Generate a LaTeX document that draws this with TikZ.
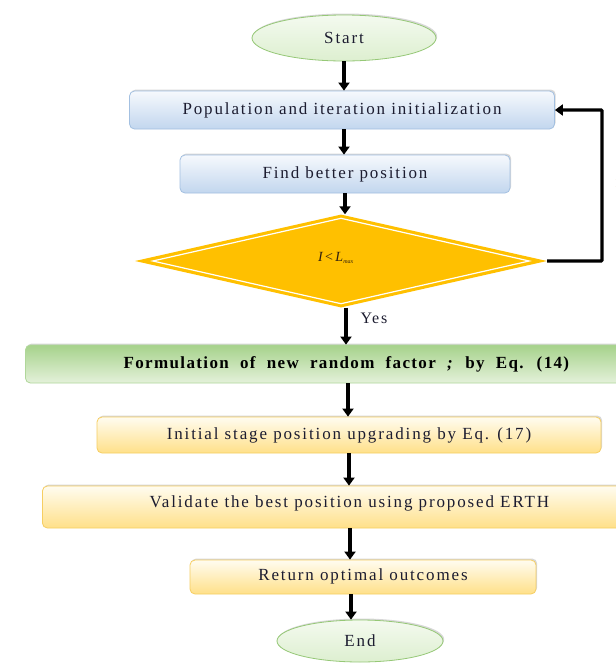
\documentclass[tikz,border=0pt]{standalone}
\usepackage{fontspec}
\setmainfont{Liberation Serif}
\newfontfamily\boxfont[LetterSpace=11]{Liberation Serif}
\newfontfamily\headfont[LetterSpace=8,WordSpace=2]{Liberation Serif}
\usetikzlibrary{shapes.geometric,arrows.meta,shadows,calc}

\definecolor{ellfill}{HTML}{DDEFD0}
\definecolor{ellfilltop}{HTML}{F4FAEF}
\definecolor{elldraw}{HTML}{96C877}
\definecolor{bluetop}{HTML}{F6F9FD}
\definecolor{bluebot}{HTML}{C2D6EE}
\definecolor{bluedraw}{HTML}{A3C0E1}
\definecolor{greentop}{HTML}{A6D28B}
\definecolor{greenbot}{HTML}{E4F1DA}
\definecolor{greendraw}{HTML}{B0D79A}
\definecolor{yeltop}{HTML}{FFFCF0}
\definecolor{yelbot}{HTML}{FFE089}
\definecolor{yeldraw}{HTML}{F6CE62}
\definecolor{decide}{HTML}{FFC000}
\definecolor{txt}{HTML}{1C1C30}
\definecolor{notxt}{HTML}{C8902A}

\tikzset{
  softshadow/.style={drop shadow={shadow xshift=1.2pt,shadow yshift=1.5pt,opacity=0.25,fill=black!60}},
  boxtext/.style={text=txt,font=\boxfont\fontsize{17}{19}\selectfont},
  terminal/.style={ellipse,draw=elldraw,line width=0.8pt,top color=ellfilltop,bottom color=ellfill,
    boxtext,inner sep=0pt,softshadow},
  bluebox/.style={rectangle,rounded corners=5pt,draw=bluedraw,line width=0.8pt,top color=bluetop,
    bottom color=bluebot,boxtext,inner sep=0pt,softshadow},
  greenbox/.style={rectangle,rounded corners=5pt,draw=greendraw,line width=0.8pt,top color=greentop,
    bottom color=greenbot,text=black,inner sep=0pt,softshadow},
  yelbox/.style={rectangle,rounded corners=5pt,draw=yeldraw,line width=0.8pt,top color=yeltop,
    bottom color=yelbot,boxtext,inner sep=0pt,softshadow},
  flow/.style={line width=3.2pt,black,-{Triangle[length=8pt,width=11pt]}},
  lbl/.style={font=\boxfont\fontsize{16}{18}\selectfont,text=txt}
}

\begin{document}
\begin{tikzpicture}[x=1pt,y=-1pt]
  \useasboundingbox (0,0) rectangle (616,665);
  \fill[white] (0,0) rectangle (616,665);

  % terminals
  \node[terminal,minimum width=184pt,minimum height=46pt] (start) at (344,38) {Start};
  \node[terminal,minimum width=166pt,minimum height=42pt] (end) at (360,641) {End};

  % initialisation and search boxes
  \node[bluebox,minimum width=425pt,minimum height=38pt] (init) at (342,110) {\raisebox{3pt}{Population and iteration initialization}};
  \node[bluebox,minimum width=330pt,minimum height=38pt] (find) at (345,174) {\raisebox{3pt}{Find better position}};

  % loop condition
  \node[diamond,fill=decide,minimum width=412pt,minimum height=93pt,aspect=4.43,inner sep=0pt] (cond) at (341,261) {};
  \draw[white,line width=1.2pt] ($(cond.north)+(0,4)$) -- ($(cond.east)+(-18,0)$) -- ($(cond.south)+(0,-4)$) -- ($(cond.west)+(18,0)$) -- cycle;
  \node[font=\itshape\fontsize{14}{16}\selectfont,text=black!75!brown] (condtxt) at (336,258) {I\,\textup{<}\,L\textsubscript{\fontsize{6}{7}\selectfont max}};

  % update stages
  \node[greenbox,minimum width=620pt,minimum height=38pt,anchor=west] (form) at (25,364)
    {\hspace*{22pt}\raisebox{3pt}{\headfont\bfseries\fontsize{17}{19}\selectfont Formulation of new random factor \textit{;} by Eq. (14)}};
  \node[yelbox,minimum width=504pt,minimum height=36pt] (stage) at (349,435) {\raisebox{2pt}{Initial stage position upgrading by Eq. (17)}};
  \node[yelbox,minimum width=600pt,minimum height=42pt,anchor=west] (valid) at (42,507)
    {\hspace*{14pt}\raisebox{10pt}{Validate the best position using proposed ERTH}};
  \node[yelbox,minimum width=346pt,minimum height=34pt] (ret) at (363,577) {\raisebox{4pt}{Return optimal outcomes}};

  % connectors
  \draw[flow] (start.south -| 344,0) -- (init.north -| 344,0);
  \draw[flow] (init.south -| 344,0) -- (find.north -| 344,0);
  \draw[flow] (find.south -| 345,0) -- (cond.north -| 345,0);
  \draw[flow] (cond.south -| 346,0) -- (form.north -| 346,0);
  \draw[flow] (form.south -| 348,0) -- (stage.north -| 348,0);
  \draw[flow] (stage.south -| 349,0) -- (valid.north -| 349,0);
  \draw[flow] (valid.south -| 350,0) -- (ret.north -| 350,0);
  \draw[flow] (ret.south -| 351,0) -- (end.north -| 351,0);

  % back edge of the loop
  \coordinate (loopx) at (602,0);
  \draw[flow,rounded corners=1pt] (cond.east) -| (loopx |- init.east) -- (init.east);

  % branch labels
  \node[lbl,anchor=west] (yes) at (357,318) {Yes};
  \node[lbl,anchor=west,text=notxt,font=\fontsize{12}{14}\selectfont] (no) at (612,184) {No};
\end{tikzpicture}
\end{document}
